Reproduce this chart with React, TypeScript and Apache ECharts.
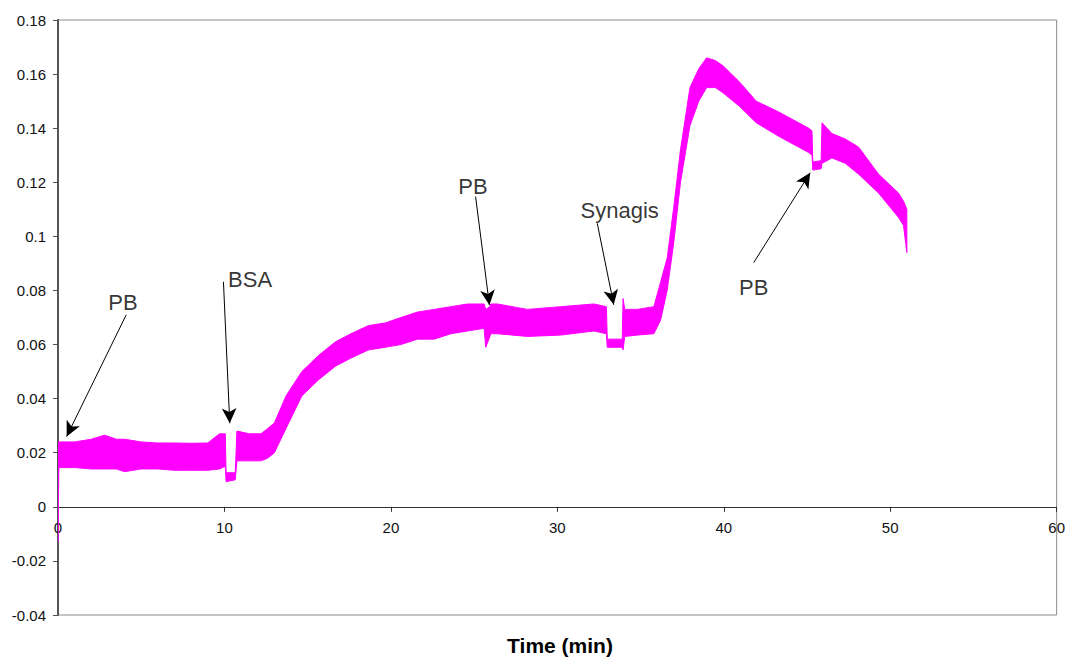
import React, { useEffect, useRef } from "react";
import * as echarts from "echarts";

// Time (min) of envelope samples
const timeMin = [
  0, 0.05, 1, 2, 2.8, 3.5, 4, 5, 6, 7,
  8, 9, 9.7, 10.05, 10.1, 10.65, 10.75, 11.5, 12.2, 12.6,
  13.0, 13.7, 14.65, 15.66, 16.67, 17.6, 18.65, 19.66, 20.6, 21.6,
  22.6, 23.6, 24.6, 25.6, 25.7, 25.95, 26.0, 26.4, 28.2, 30.2,
  32.2, 32.95, 33.0, 33.9, 33.95, 34.05, 34.8, 35.8, 36.2, 36.6,
  37.0, 37.4, 37.97, 38.5, 38.97, 39.5, 39.97, 40.96, 41.95, 43.3,
  45.1, 45.3, 45.35, 45.85, 45.9, 46.5, 47.3, 48.1, 49.3, 50.5,
  50.8, 51.0,
];
// lower edge of the noisy signal band
const signalLow = [
  -0.013, 0.0145, 0.0145, 0.014, 0.014, 0.014, 0.013, 0.014, 0.014, 0.0135,
  0.0135, 0.0135, 0.014, 0.015, 0.0093, 0.010, 0.017, 0.017, 0.017, 0.018,
  0.020, 0.029, 0.041, 0.047, 0.052, 0.055, 0.058, 0.059, 0.060, 0.062,
  0.062, 0.064, 0.065, 0.066, 0.059, 0.063, 0.064, 0.064, 0.063, 0.0635,
  0.065, 0.064, 0.059, 0.059, 0.058, 0.063, 0.0635, 0.064, 0.069, 0.080,
  0.098, 0.120, 0.141, 0.150, 0.155, 0.155, 0.153, 0.148, 0.142, 0.137,
  0.131, 0.130, 0.1245, 0.125, 0.127, 0.129, 0.127, 0.123, 0.116, 0.107,
  0.104, 0.094,
];
// upper edge of the noisy signal band
const signalHigh = [
  0.024, 0.024, 0.024, 0.025, 0.0265, 0.025, 0.025, 0.024, 0.0236, 0.0236,
  0.0235, 0.0236, 0.027, 0.027, 0.0126, 0.0126, 0.028, 0.027, 0.027, 0.029,
  0.031, 0.041, 0.050, 0.056, 0.061, 0.064, 0.067, 0.068, 0.070, 0.072,
  0.073, 0.074, 0.075, 0.075, 0.073, 0.074, 0.075, 0.075, 0.073, 0.074,
  0.075, 0.074, 0.062, 0.062, 0.077, 0.073, 0.073, 0.074, 0.083, 0.092,
  0.111, 0.132, 0.155, 0.162, 0.166, 0.165, 0.163, 0.157, 0.150, 0.146,
  0.140, 0.139, 0.1275, 0.128, 0.142, 0.138, 0.136, 0.133, 0.123, 0.116,
  0.113, 0.110,
];

// annotations
const annoLabels = ["PB", "BSA", "PB", "Synagis", "PB"];
const annoLabelT = [3.9, 11.54, 24.93, 33.75, 41.8];
const annoLabelV = [0.0754, 0.0839, 0.1184, 0.1094, 0.0812];
const arrowFromT = [4.1, 9.94, 25.09, 32.4, 41.8];
const arrowFromV = [0.071, 0.0832, 0.1147, 0.1048, 0.0903];
const arrowToT = [0.52, 10.32, 25.92, 33.39, 45.19];
const arrowToV = [0.026, 0.0309, 0.0746, 0.0747, 0.1235];

const xTicks = { min: 0, max: 60, interval: 10 };
const yTicks = { min: -0.04, max: 0.18, interval: 0.02 };

const FONT = "'Liberation Sans', Arial, Helvetica, sans-serif";
const MAGENTA = "#ff00ff";

const GRID = { left: 58, right: 8, top: 20, bottom: 43 };
const HEIGHT = 658;

export default function App() {
  const ref = useRef<HTMLDivElement>(null);

  useEffect(() => {
    document.body.style.margin = "0";
    if (!ref.current) return;
    const chart = echarts.init(ref.current, null, { renderer: "svg" });

    const labelData = annoLabels.map((n, i) => ({ name: n, value: [annoLabelT[i], annoLabelV[i]] }));
    const arrowData = annoLabels.map((_, i) => [
      { coord: [arrowFromT[i], arrowFromV[i]], symbol: "none" },
      { coord: [arrowToT[i], arrowToV[i]], symbol: "arrow", symbolSize: [11, 15] },
    ]);

    const renderBand = (params: any, api: any) => {
      const upper = timeMin.map((t, i) => api.coord([t, signalHigh[i]]));
      const lower = timeMin.map((t, i) => api.coord([t, signalLow[i]])).reverse();
      return {
        type: "polygon",
        shape: { points: upper.concat(lower) },
        style: { fill: MAGENTA, stroke: MAGENTA, lineWidth: 1 },
        silent: true,
      };
    };

    // the x axis crosses the y axis at value 0
    const gridH = HEIGHT - GRID.top - GRID.bottom;
    const zeroOffset = (gridH * (0 - yTicks.min)) / (yTicks.max - yTicks.min);

    chart.setOption({
      animation: false,
      grid: {
        ...GRID,
        show: true,
        borderColor: "#8a8a8a",
        borderWidth: 1,
        containLabel: false,
      },
      xAxis: {
        type: "value",
        position: "bottom",
        offset: -zeroOffset,
        min: xTicks.min,
        max: xTicks.max,
        interval: xTicks.interval,
        axisLine: { show: true, onZero: false, lineStyle: { color: "#333", width: 1 } },
        axisTick: { show: true, length: 5, lineStyle: { color: "#333" } },
        axisLabel: { fontSize: 15, color: "#111", fontFamily: FONT, margin: 13 },
        splitLine: { show: false },
      },
      yAxis: {
        type: "value",
        min: yTicks.min,
        max: yTicks.max,
        interval: yTicks.interval,
        axisLine: { show: true, lineStyle: { color: "#555", width: 2 } },
        axisTick: { show: true, length: 5, lineStyle: { color: "#555" } },
        axisLabel: {
          fontSize: 15,
          color: "#111",
          fontFamily: FONT,
          margin: 12,
          formatter: (v: number) => String(parseFloat(v.toFixed(2))),
        },
        splitLine: { show: false },
      },
      graphic: [
        {
          type: "text",
          x: 560,
          y: 645,
          style: {
            text: "Time (min)",
            font: `bold 21px ${FONT}`,
            fill: "#000",
            align: "center",
            verticalAlign: "middle",
          },
        },
      ],
      series: [
        {
          type: "custom",
          name: "signal",
          data: [[0, 0]],
          encode: { x: 0, y: 1 },
          renderItem: renderBand,
          silent: true,
          clip: true,
          z: 2,
        },
        {
          type: "scatter",
          name: "annotations",
          data: labelData,
          symbolSize: 1,
          itemStyle: { color: "rgba(0,0,0,0)" },
          silent: true,
          z: 3,
          label: {
            show: true,
            position: "inside",
            formatter: "{b}",
            fontSize: 22,
            color: "#000",
            fontFamily: FONT,
          },
          markLine: {
            silent: true,
            animation: false,
            label: { show: false },
            lineStyle: { color: "#000", width: 1, type: "solid" },
            emphasis: { disabled: true },
            data: arrowData,
          },
        },
      ],
    });

    return () => chart.dispose();
  }, []);

  return <div ref={ref} style={{ width: 1068, height: HEIGHT }} />;
}
